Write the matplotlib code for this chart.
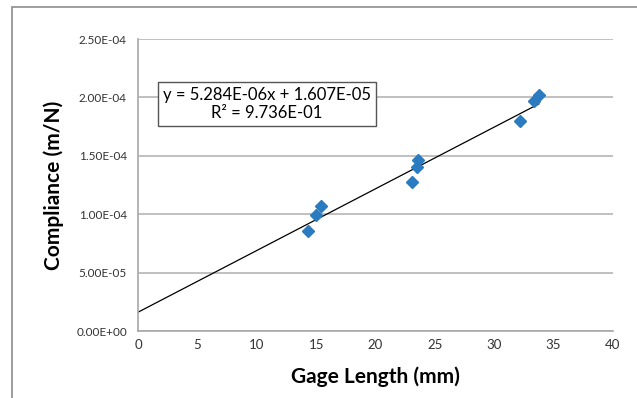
import matplotlib
matplotlib.use("Agg")
import matplotlib.pyplot as plt
import numpy as np
from matplotlib.patches import Rectangle

gage_length = [14.35, 15.02, 15.44, 23.04, 23.46, 23.54, 32.15, 33.33, 33.76]
compliance = [8.56e-5, 9.93e-5, 1.07e-4, 1.276e-4, 1.40e-4, 1.464e-4, 1.798e-4, 1.969e-4, 2.02e-4]
slope = 5.284e-06
intercept = 1.607e-05
r2 = 9.736e-01
x_ticks = [0, 5, 10, 15, 20, 25, 30, 35, 40]
y_ticks = [0, 5e-5, 1e-4, 1.5e-4, 2e-4, 2.5e-4]
y_tick_labels = ["0.00E+00", "5.00E-05", "1.00E-04", "1.50E-04", "2.00E-04", "2.50E-04"]

plt.rcParams['font.family'] = ['Lato', 'DejaVu Sans']

fig = plt.figure(figsize=(6.37, 3.98), dpi=100)
fig.patches.append(Rectangle((12/637, -0.01), 1.1, 1 - 7/398 + 0.01, transform=fig.transFigure,
                             fill=False, edgecolor='#8c8c8c', linewidth=1.2))
ax = fig.add_axes([138/637, 67/398, 475/637, 292/398])

ax.set_xlim(0, 40)
ax.set_ylim(0, 2.5e-4)
ax.set_xticks(x_ticks)
ax.set_xticklabels([str(t) for t in x_ticks], fontsize=9.5, color='#333333')
ax.set_yticks(y_ticks)
ax.set_yticklabels(y_tick_labels, fontsize=8.5, color='#333333')
ax.tick_params(length=0, pad=8)
ax.tick_params(axis='x', pad=6)
ax.grid(axis='y', color='#b5b5b5', linewidth=1.2)
ax.set_axisbelow(True)
for s in ['top', 'right']:
    ax.spines[s].set_visible(False)
for s in ['left', 'bottom']:
    ax.spines[s].set_color('#a8a8a8')
    ax.spines[s].set_linewidth(1.2)

xs = np.array([0, max(gage_length)])
ax.plot(xs, slope * xs + intercept, color='black', linewidth=0.9, zorder=2)
ax.plot(gage_length, compliance, linestyle='none', marker='D', markersize=6,
        color='#2a7bbf', zorder=3)

ax.set_xlabel("Gage Length (mm)", fontsize=15, fontweight='bold', labelpad=11)
ax.set_ylabel("Compliance (m/N)", fontsize=15, fontweight='bold', labelpad=9)

ax.text(0.052, 0.777, "y = 5.284E-06x + 1.607E-05\nR² = 9.736E-01", transform=ax.transAxes,
        fontsize=12, ha='left', va='center', multialignment='center', linespacing=1.2,
        bbox=dict(boxstyle='square,pad=0.3', facecolor='white', edgecolor='#555555', linewidth=1))

fig.savefig("out.png", dpi=100)
